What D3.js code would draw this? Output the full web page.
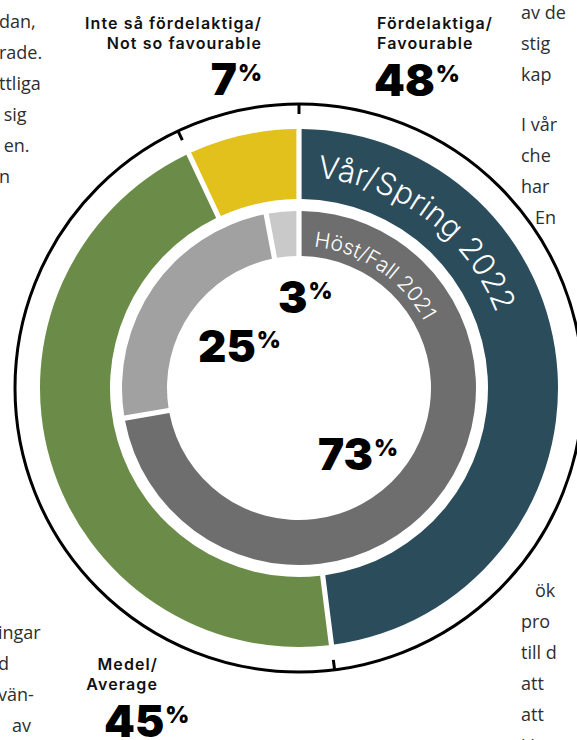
<!DOCTYPE html>
<html>
<head>
<meta charset="utf-8">
<script src="https://cdn.jsdelivr.net/npm/d3@7"></script>
<style>
  body { margin: 0; background: #fff; }
  svg { display: block; }
</style>
</head>
<body>
<svg></svg>
<script>
// DATA
const categories = ["Fördelaktiga/Favourable", "Medel/Average", "Inte så fördelaktiga/Not so favourable"];
const spring2022 = [48, 45, 7];
const fall2021 = [73, 25, 3];
const springColors = ["#2a4c5b", "#6a8c48", "#e2c11c"];
const fallColors = ["#6e6e6e", "#a1a1a1", "#c9c9c9"];
const seriesNames = ["Vår/Spring 2022", "Höst/Fall 2021"];

// cut off body text from the page around the chart
const leftTop = ["dan,", "rade.", "ttliga", " sig", " en.", "n"];
const leftBottom = ["ingar", "d", "vän-", "   av"];
const rightTop = ["av de", "stig", "kap", "I vår", "che", "har", "   En"];
const rightBottom = ["   ök", "pro", "till d", "att", "att", "i i"];

const width = 577;
const height = 740;
const cx = 299;
const cy = 388;

const svg = d3.select("svg")
  .attr("width", width)
  .attr("height", height);

// body text fragments
function bodyColumn(lines, x, y0, gapAfter){
  svg.append("g").selectAll("text")
    .data(lines)
    .join("text")
    .attr("x", x)
    .attr("y", (d, i) => y0 + i * 31 + (gapAfter != null && i > gapAfter ? 19 : 0))
    .attr("font-family", "'Open Sans', sans-serif")
    .attr("font-size", 18)
    .attr("fill", "#2e2e2e")
    .style("white-space", "pre")
    .text(d => d);
}
bodyColumn(leftTop, -1, 28);
bodyColumn(leftBottom, -2, 639);
bodyColumn(rightTop, 521, 19, 2);
bodyColumn(rightBottom, 521, 597);

const chart = svg.append("g")
  .attr("transform", `translate(${cx},${cy})`);

const pie = d3.pie().sort(null).value(d => d);

const outerArc = d3.arc()
  .innerRadius(189)
  .outerRadius(259)
  .padRadius(200)
  .padAngle(0.026);

const innerArc = d3.arc()
  .innerRadius(132)
  .outerRadius(177)
  .padRadius(200)
  .padAngle(0.026);

const springPie = pie(spring2022);
const fallPie = pie(fall2021);

// outer frame circle with ticks at segment borders
const frameR = 284;
chart.append("circle")
  .attr("r", frameR)
  .attr("fill", "none")
  .attr("stroke", "#000")
  .attr("stroke-width", 3);

chart.selectAll(".tick")
  .data(springPie)
  .join("line")
  .attr("class", "tick")
  .attr("x1", d => Math.sin(d.startAngle) * frameR)
  .attr("y1", d => -Math.cos(d.startAngle) * frameR)
  .attr("x2", d => Math.sin(d.startAngle) * (frameR - 10))
  .attr("y2", d => -Math.cos(d.startAngle) * (frameR - 10))
  .attr("stroke", "#000")
  .attr("stroke-width", 3);

chart.selectAll(".spring")
  .data(springPie)
  .join("path")
  .attr("class", "spring")
  .attr("d", outerArc)
  .attr("fill", (d, i) => springColors[i]);

chart.selectAll(".fall")
  .data(fallPie)
  .join("path")
  .attr("class", "fall")
  .attr("d", innerArc)
  .attr("fill", (d, i) => fallColors[i]);

// curved series names
function arcPath(r, a0, a1){
  const x0 = Math.sin(a0) * r, y0 = -Math.cos(a0) * r;
  const x1 = Math.sin(a1) * r, y1 = -Math.cos(a1) * r;
  return `M${x0},${y0} A${r},${r} 0 0 1 ${x1},${y1}`;
}
const deg = Math.PI / 180;
const defs = svg.append("defs");
defs.append("path").attr("id", "springPath")
  .attr("d", arcPath(211, 5 * deg, 100 * deg));
defs.append("path").attr("id", "fallPath")
  .attr("d", arcPath(142, 6 * deg, 100 * deg));

chart.append("text")
  .attr("font-family", "Inter, sans-serif")
  .attr("font-weight", 300)
  .attr("font-size", 31)
  .attr("fill", "#fff")
  .append("textPath")
  .attr("href", "#springPath")
  .text(seriesNames[0]);

chart.append("text")
  .attr("font-family", "Inter, sans-serif")
  .attr("font-weight", 300)
  .attr("font-size", 21)
  .attr("fill", "#fff")
  .append("textPath")
  .attr("href", "#fallPath")
  .text(seriesNames[1]);

// percentage labels
const numFont = "Inter, sans-serif";
function percent(value, x, y, anchor){
  const t = svg.append("text")
    .attr("x", x)
    .attr("y", y)
    .attr("text-anchor", anchor)
    .attr("font-family", numFont)
    .attr("font-weight", 900)
    .attr("fill", "#000");
  t.append("tspan").attr("font-size", 44).text(value);
  t.append("tspan").attr("font-size", 23).attr("dy", -14).attr("dx", 1).text("%");
}

function label(lines, x, y, anchor){
  svg.append("g").selectAll("text")
    .data(lines)
    .join("text")
    .attr("x", x)
    .attr("y", (d, i) => y + i * 20)
    .attr("text-anchor", anchor)
    .attr("font-family", numFont)
    .attr("font-weight", 600)
    .attr("font-size", 16)
    .attr("letter-spacing", 1.1)
    .attr("fill", "#111")
    .text(d => d);
}

const split = s => s.split("/").map((p, i) => i === 0 ? p + "/" : p);
label(split(categories[2]), 262, 29, "end");
label(split(categories[0]), 377, 29, "start");
label(split(categories[1]), 158, 670, "end");

percent(spring2022[2], 262, 95, "end");
percent(spring2022[0], 374, 96, "start");
percent(spring2022[1], 104, 737, "start");

percent(fall2021[2], 278, 313, "start");
percent(fall2021[1], 198, 362, "start");
percent(fall2021[0], 318, 470, "start");
</script>
</body>
</html>
